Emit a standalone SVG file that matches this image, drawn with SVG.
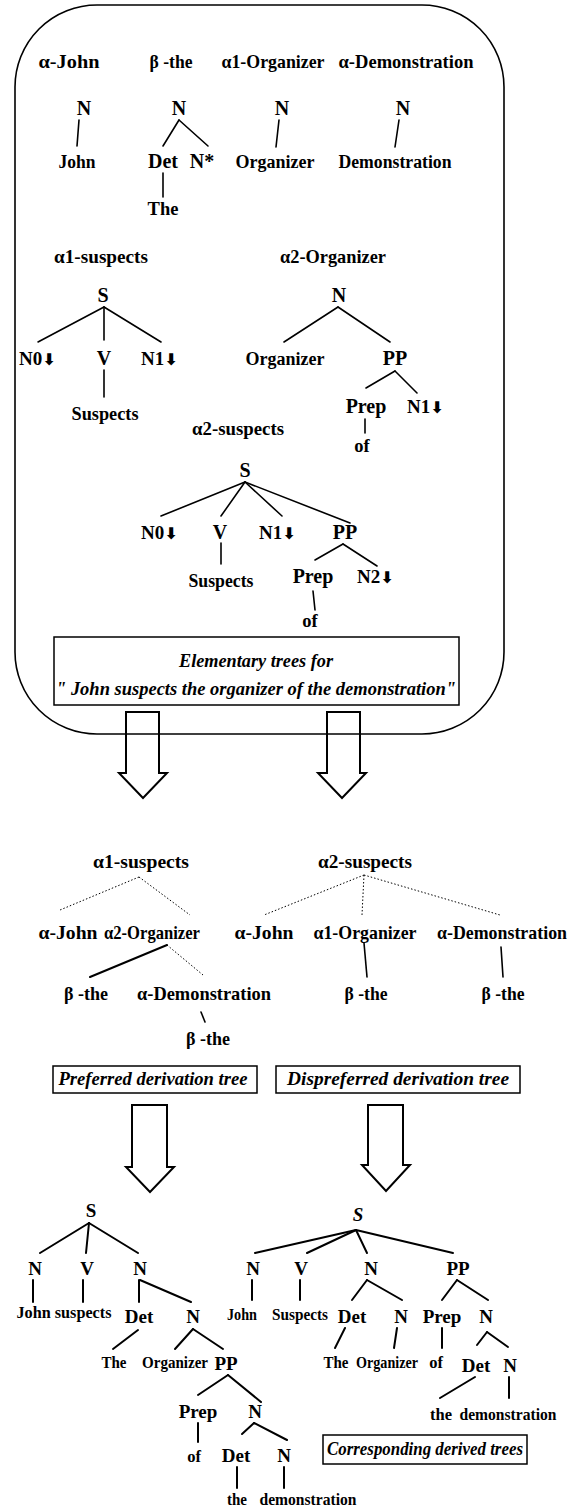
<svg xmlns="http://www.w3.org/2000/svg" width="574" height="1509" viewBox="0 0 574 1509">
<style>
text{font-family:"Liberation Serif","Times New Roman",serif;font-weight:bold;fill:#000;text-anchor:middle}
.lab{font-size:19px}
.nd{font-size:20px}
.lf{font-size:18.5px}
.bn{font-size:19px}
.bl{font-size:16.5px}
.cap{font-style:italic;font-size:18px}
.st{text-anchor:start;font-size:19px}
.ar{font-family:"DejaVu Sans",sans-serif;font-size:16px}
.ln{stroke:#000;stroke-width:1.6;fill:none;stroke-linecap:round}
.ln2{stroke:#000;stroke-width:2;fill:none;stroke-linecap:round}
.dot{stroke:#000;stroke-width:1;stroke-dasharray:1.5 2;fill:none}
.blk{fill:none;stroke:#000;stroke-width:2;stroke-linejoin:miter}
.box{fill:#fff;stroke:#000;stroke-width:1.5}
</style>
<rect width="574" height="1509" fill="#fff"/>
<g id="frame"><rect x="15" y="5" width="489" height="729" rx="82" ry="82" fill="none" stroke="#000" stroke-width="1.6"/></g>

<g id="connectors">
<line class="ln" x1="79" y1="120" x2="77" y2="146"/>
<line class="ln" x1="179" y1="120" x2="163" y2="146"/>
<line class="ln" x1="179" y1="120" x2="208" y2="146"/>
<line class="ln" x1="163" y1="173" x2="163" y2="197"/>
<line class="ln" x1="279" y1="120" x2="276" y2="147"/>
<line class="ln" x1="399" y1="120" x2="395" y2="147"/>
<line class="ln" x1="104" y1="307" x2="38" y2="342"/>
<line class="ln" x1="104" y1="307" x2="104" y2="340"/>
<line class="ln" x1="104" y1="307" x2="161" y2="342"/>
<line class="ln" x1="104" y1="370" x2="104" y2="397"/>
<line class="ln" x1="338" y1="307" x2="284" y2="342"/>
<line class="ln" x1="338" y1="307" x2="390" y2="342"/>
<line class="ln" x1="395" y1="371" x2="366" y2="388"/>
<line class="ln" x1="395" y1="371" x2="417" y2="393"/>
<line class="ln" x1="365" y1="419" x2="365" y2="433"/>
<line class="ln" x1="245" y1="482" x2="161" y2="516"/>
<line class="ln" x1="245" y1="482" x2="221" y2="516"/>
<line class="ln" x1="245" y1="482" x2="282" y2="516"/>
<line class="ln" x1="245" y1="482" x2="350" y2="523"/>
<line class="ln" x1="221" y1="543" x2="221" y2="564"/>
<line class="ln" x1="343" y1="544" x2="315" y2="560"/>
<line class="ln" x1="343" y1="544" x2="377" y2="566"/>
<line class="ln" x1="313" y1="591" x2="315" y2="610"/>
<polygon class="blk" points="126,712 159,712 159,773 167,773 143,798 119,773 126,773"/>
<polygon class="blk" points="327,712 360,712 360,773 366,773 342,798 318,773 327,773"/>
<line class="dot" x1="139" y1="877" x2="60" y2="910"/>
<line class="dot" x1="139" y1="877" x2="190" y2="915"/>
<line class="dot" x1="364" y1="875" x2="264" y2="915"/>
<line class="dot" x1="364" y1="875" x2="362" y2="915"/>
<line class="dot" x1="364" y1="875" x2="500" y2="915"/>
<line class="ln2" x1="167" y1="945" x2="90" y2="977"/>
<line class="dot" x1="167" y1="945" x2="203" y2="975"/>
<line class="ln" x1="201" y1="1012" x2="205" y2="1022"/>
<line class="ln" x1="364" y1="943" x2="367" y2="977"/>
<line class="ln" x1="501" y1="947" x2="503" y2="977"/>
<polygon class="blk" points="132,1105 167,1105 167,1167 174,1167 150,1192 126,1167 132,1167"/>
<polygon class="blk" points="368,1105 403,1105 403,1165 410,1165 386,1191 362,1165 368,1165"/>
<line class="ln2" x1="89" y1="1223" x2="40" y2="1253"/>
<line class="ln2" x1="89" y1="1223" x2="86" y2="1253"/>
<line class="ln2" x1="89" y1="1223" x2="138" y2="1253"/>
<line class="ln2" x1="33" y1="1280" x2="33" y2="1302"/>
<line class="ln2" x1="83" y1="1280" x2="83" y2="1302"/>
<line class="ln2" x1="139" y1="1280" x2="139" y2="1302"/>
<line class="ln2" x1="140" y1="1280" x2="191" y2="1302"/>
<line class="ln2" x1="138" y1="1330" x2="113" y2="1349"/>
<line class="ln2" x1="193" y1="1329" x2="175" y2="1349"/>
<line class="ln2" x1="193" y1="1329" x2="223" y2="1349"/>
<line class="ln2" x1="228" y1="1375" x2="198" y2="1395"/>
<line class="ln2" x1="228" y1="1375" x2="261" y2="1402"/>
<line class="ln2" x1="198" y1="1423" x2="198" y2="1442"/>
<line class="ln2" x1="254" y1="1423" x2="242" y2="1434"/>
<line class="ln2" x1="254" y1="1423" x2="287" y2="1440"/>
<line class="ln2" x1="237" y1="1467" x2="237" y2="1488"/>
<line class="ln2" x1="284" y1="1467" x2="284" y2="1488"/>
<line class="ln2" x1="356" y1="1230" x2="255" y2="1253"/>
<line class="ln2" x1="356" y1="1230" x2="307" y2="1253"/>
<line class="ln2" x1="356" y1="1230" x2="367" y2="1253"/>
<line class="ln2" x1="356" y1="1230" x2="453" y2="1253"/>
<line class="ln2" x1="252" y1="1280" x2="252" y2="1300"/>
<line class="ln2" x1="300" y1="1280" x2="300" y2="1300"/>
<line class="ln2" x1="367" y1="1280" x2="352" y2="1300"/>
<line class="ln2" x1="367" y1="1280" x2="402" y2="1300"/>
<line class="ln2" x1="457" y1="1280" x2="442" y2="1300"/>
<line class="ln2" x1="457" y1="1280" x2="488" y2="1300"/>
<line class="ln2" x1="345" y1="1328" x2="335" y2="1348"/>
<line class="ln2" x1="397" y1="1328" x2="394" y2="1348"/>
<line class="ln2" x1="442" y1="1328" x2="442" y2="1348"/>
<line class="ln2" x1="487" y1="1332" x2="477" y2="1345"/>
<line class="ln2" x1="487" y1="1332" x2="508" y2="1347"/>
<line class="ln2" x1="475" y1="1377" x2="440" y2="1398"/>
<line class="ln2" x1="509" y1="1377" x2="509" y2="1398"/>
</g>

<g id="t-ajohn"><text class="lab" x="69" y="68" textLength="61" lengthAdjust="spacingAndGlyphs">α-John</text></g>
<g id="t-bthe"><text class="lab" x="171" y="68" textLength="43" lengthAdjust="spacingAndGlyphs">β -the</text></g>
<g id="t-a1org"><text class="lab" x="273" y="68" textLength="103" lengthAdjust="spacingAndGlyphs">α1-Organizer</text></g>
<g id="t-adem"><text class="lab" x="406" y="68" textLength="135" lengthAdjust="spacingAndGlyphs">α-Demonstration</text></g>
<g id="n-john-N"><text class="nd" x="84" y="115">N</text></g>
<g id="n-the-N"><text class="nd" x="179" y="115">N</text></g>
<g id="n-org-N"><text class="nd" x="282" y="115">N</text></g>
<g id="n-dem-N"><text class="nd" x="403" y="115">N</text></g>
<g id="n-john"><text class="lf" x="77" y="168" textLength="37" lengthAdjust="spacingAndGlyphs">John</text></g>
<g id="n-det"><text class="nd" x="163" y="168">Det</text></g>
<g id="n-nstar"><text class="nd" x="202" y="168">N*</text></g>
<g id="n-organizer"><text class="lf" x="275" y="168" textLength="79" lengthAdjust="spacingAndGlyphs">Organizer</text></g>
<g id="n-demonstration"><text class="lf" x="395" y="168" textLength="113" lengthAdjust="spacingAndGlyphs">Demonstration</text></g>
<g id="n-The"><text class="lf" x="163" y="215">The</text></g>

<g id="t-a1sus"><text class="lab" x="101" y="263" textLength="94" lengthAdjust="spacingAndGlyphs">α1-suspects</text></g>
<g id="s1-S"><text class="nd" x="103" y="302">S</text></g>
<g id="s1-N0"><text class="st" x="19" y="365">N0<tspan class="ar">⬇</tspan></text></g>
<g id="s1-V"><text class="nd" x="104" y="365">V</text></g>
<g id="s1-N1"><text class="st" x="141" y="365">N1<tspan class="ar">⬇</tspan></text></g>
<g id="s1-susp"><text class="lf" x="105" y="420" textLength="67" lengthAdjust="spacingAndGlyphs">Suspects</text></g>

<g id="t-a2org"><text class="lab" x="333" y="263" textLength="106" lengthAdjust="spacingAndGlyphs">α2-Organizer</text></g>
<g id="o2-N"><text class="nd" x="339" y="302">N</text></g>
<g id="o2-org"><text class="lf" x="285" y="365" textLength="79" lengthAdjust="spacingAndGlyphs">Organizer</text></g>
<g id="o2-PP"><text class="nd" x="395" y="365">PP</text></g>
<g id="o2-prep"><text class="nd" x="366" y="413">Prep</text></g>
<g id="o2-N1"><text class="st" x="407" y="413">N1<tspan class="ar">⬇</tspan></text></g>
<g id="o2-of"><text class="lf" x="362" y="452">of</text></g>

<g id="t-a2sus"><text class="lab" x="238" y="435" textLength="92" lengthAdjust="spacingAndGlyphs">α2-suspects</text></g>
<g id="s2-S"><text class="nd" x="245" y="477">S</text></g>
<g id="s2-N0"><text class="st" x="141" y="539">N0<tspan class="ar">⬇</tspan></text></g>
<g id="s2-V"><text class="nd" x="220" y="539">V</text></g>
<g id="s2-N1"><text class="st" x="259" y="539">N1<tspan class="ar">⬇</tspan></text></g>
<g id="s2-PP"><text class="nd" x="345" y="539">PP</text></g>
<g id="s2-susp"><text class="lf" x="221" y="587" textLength="65" lengthAdjust="spacingAndGlyphs">Suspects</text></g>
<g id="s2-prep"><text class="nd" x="313" y="583">Prep</text></g>
<g id="s2-N2"><text class="st" x="357" y="583">N2<tspan class="ar">⬇</tspan></text></g>
<g id="s2-of"><text class="lf" x="310" y="627">of</text></g>

<g id="cap-elem">
<rect class="box" x="54" y="637" width="405" height="68"/>
<text class="cap" x="256" y="667" textLength="154" lengthAdjust="spacingAndGlyphs">Elementary trees for</text>
<text class="cap" x="256" y="695" textLength="400" lengthAdjust="spacingAndGlyphs">" John suspects the organizer of the demonstration"</text>
</g>

<g id="d1-root"><text class="lab" x="141" y="868" textLength="96" lengthAdjust="spacingAndGlyphs">α1-suspects</text></g>
<g id="d2-root"><text class="lab" x="365" y="868" textLength="94" lengthAdjust="spacingAndGlyphs">α2-suspects</text></g>
<g id="d1-john"><text class="lab" x="68" y="939" textLength="59" lengthAdjust="spacingAndGlyphs">α-John</text></g>
<g id="d1-a2org"><text class="lab" x="152" y="939" textLength="96" lengthAdjust="spacingAndGlyphs">α2-Organizer</text></g>
<g id="d2-john"><text class="lab" x="264" y="939" textLength="59" lengthAdjust="spacingAndGlyphs">α-John</text></g>
<g id="d2-a1org"><text class="lab" x="365" y="939" textLength="103" lengthAdjust="spacingAndGlyphs">α1-Organizer</text></g>
<g id="d2-adem"><text class="lab" x="502" y="939" textLength="130" lengthAdjust="spacingAndGlyphs">α-Demonstration</text></g>
<g id="d1-bthe"><text class="lab" x="86" y="1000" textLength="44" lengthAdjust="spacingAndGlyphs">β -the</text></g>
<g id="d1-adem"><text class="lab" x="204" y="1000" textLength="134" lengthAdjust="spacingAndGlyphs">α-Demonstration</text></g>
<g id="d1-bthe2"><text class="lab" x="208" y="1045" textLength="44" lengthAdjust="spacingAndGlyphs">β -the</text></g>
<g id="d2-bthe"><text class="lab" x="366" y="1000" textLength="43" lengthAdjust="spacingAndGlyphs">β -the</text></g>
<g id="d2-bthe2"><text class="lab" x="503" y="1000" textLength="43" lengthAdjust="spacingAndGlyphs">β -the</text></g>
<g id="cap-pref">
<rect class="box" x="53" y="1066" width="204" height="27"/>
<text class="cap" x="153" y="1085" textLength="189" lengthAdjust="spacingAndGlyphs">Preferred derivation tree</text>
</g>
<g id="cap-dispref">
<rect class="box" x="276" y="1066" width="244" height="27"/>
<text class="cap" x="398" y="1085" textLength="222" lengthAdjust="spacingAndGlyphs">Dispreferred derivation tree</text>
</g>

<g id="l-S"><text class="bn" x="91" y="1217">S</text></g>
<g id="l-N"><text class="bn" x="35" y="1275">N</text></g>
<g id="l-V"><text class="bn" x="87" y="1275">V</text></g>
<g id="l-N2"><text class="bn" x="140" y="1275">N</text></g>
<g id="l-johnsusp"><text class="bl" x="64" y="1318" textLength="95" lengthAdjust="spacingAndGlyphs">John suspects</text></g>
<g id="l-det"><text class="bn" x="139" y="1323">Det</text></g>
<g id="l-N3"><text class="bn" x="193" y="1323">N</text></g>
<g id="l-the"><text class="bl" x="114" y="1368" textLength="25" lengthAdjust="spacingAndGlyphs">The</text></g>
<g id="l-org"><text class="bl" x="175" y="1368" textLength="66" lengthAdjust="spacingAndGlyphs">Organizer</text></g>
<g id="l-PP"><text class="bn" x="226" y="1370">PP</text></g>
<g id="l-prep"><text class="bn" x="198" y="1418">Prep</text></g>
<g id="l-N4"><text class="bn" x="255" y="1418">N</text></g>
<g id="l-of"><text class="bl" x="194" y="1462">of</text></g>
<g id="l-det2"><text class="bn" x="236" y="1462">Det</text></g>
<g id="l-N5"><text class="bn" x="284" y="1462">N</text></g>
<g id="l-the2"><text class="bl" x="237" y="1505" textLength="20" lengthAdjust="spacingAndGlyphs">the</text></g>
<g id="l-dem"><text class="bl" x="308" y="1505" textLength="97" lengthAdjust="spacingAndGlyphs">demonstration</text></g>

<g id="r-S"><text class="bn" x="358" y="1221" font-style="italic">S</text></g>
<g id="r-N"><text class="bn" x="253" y="1275">N</text></g>
<g id="r-V"><text class="bn" x="301" y="1275">V</text></g>
<g id="r-N2"><text class="bn" x="371" y="1275">N</text></g>
<g id="r-PP"><text class="bn" x="458" y="1275">PP</text></g>
<g id="r-john"><text class="bl" x="242" y="1320" textLength="30" lengthAdjust="spacingAndGlyphs">John</text></g>
<g id="r-susp"><text class="bl" x="300" y="1320" textLength="56" lengthAdjust="spacingAndGlyphs">Suspects</text></g>
<g id="r-det"><text class="bn" x="352" y="1323">Det</text></g>
<g id="r-N3"><text class="bn" x="401" y="1323">N</text></g>
<g id="r-prep"><text class="bn" x="442" y="1323">Prep</text></g>
<g id="r-N4"><text class="bn" x="486" y="1323">N</text></g>
<g id="r-the"><text class="bl" x="336" y="1368" textLength="25" lengthAdjust="spacingAndGlyphs">The</text></g>
<g id="r-org"><text class="bl" x="387" y="1368" textLength="62" lengthAdjust="spacingAndGlyphs">Organizer</text></g>
<g id="r-of"><text class="bl" x="436" y="1368">of</text></g>
<g id="r-det2"><text class="bn" x="476" y="1372">Det</text></g>
<g id="r-N5"><text class="bn" x="510" y="1372">N</text></g>
<g id="r-the2"><text class="bl" x="441" y="1420" textLength="22" lengthAdjust="spacingAndGlyphs">the</text></g>
<g id="r-dem"><text class="bl" x="508" y="1420" textLength="97" lengthAdjust="spacingAndGlyphs">demonstration</text></g>
<g id="cap-derived">
<rect class="box" x="323" y="1435" width="204" height="29"/>
<text class="cap" x="425" y="1455" textLength="196" lengthAdjust="spacingAndGlyphs">Corresponding derived trees</text>
</g>
</svg>
